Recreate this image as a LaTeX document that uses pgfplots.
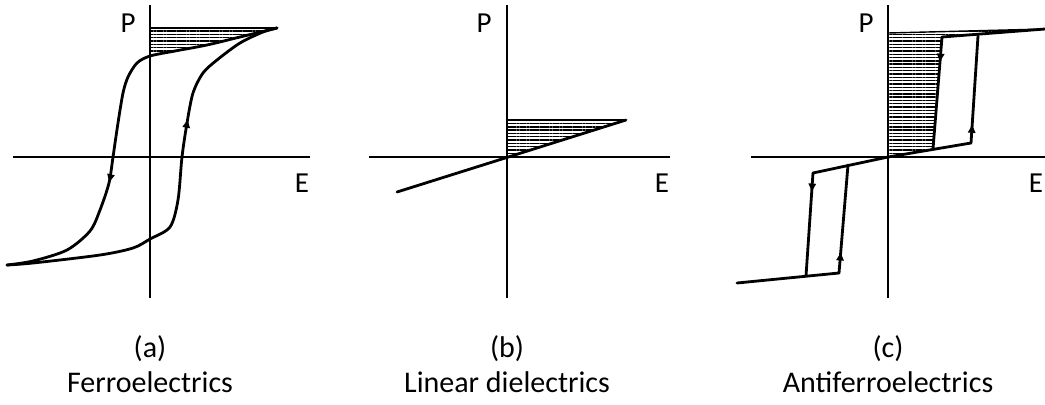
\documentclass[border=0pt]{standalone}
\usepackage{fontspec}
\setmainfont{Carlito}
\usepackage{pgfplots}
\pgfplotsset{compat=1.18}
\usetikzlibrary{patterns.meta,decorations.markings,arrows.meta}

\pgfplotsset{
  loopaxis/.style={
    x=0.5pt, y=0.5pt,
    axis lines=middle,
    axis line style={-, line width=1pt},
    xtick=\empty, ytick=\empty,
    clip=false,
    anchor=origin,
  },
  curve/.style={line width=1.4pt, black, line join=round, line cap=round, mark=none},
  hatch/.style={draw=none, mark=none, pattern={Lines[angle=0,distance=1.65pt,line width=0.7pt]}, pattern color=black},
  edge/.style={line width=0.7pt, black, mark=none},
  arrowat/.style={postaction={decorate}, decoration={markings,
      mark=at position #1 with {\arrow{Triangle[length=4pt,width=3.6pt]}}}},
}
\newcommand{\axlabel}{\fontsize{14.5}{17}\selectfont}
\newcommand{\caplabel}{\fontsize{15}{18}\selectfont}

\begin{document}
\begin{tikzpicture}
\useasboundingbox (0,0) rectangle (522.5pt,202pt);

% (a) ferroelectric hysteresis loop
\begin{axis}[loopaxis, at={(75pt,123.5pt)},
  xmin=-137, xmax=160, ymin=-141, ymax=152]
  \addplot[hatch] coordinates {(0,129) (127,129) (90,120) (57,112) (25,106) (0,101)} -- cycle;
  \addplot[edge] coordinates {(0,129) (127,129)};
  % field decreasing
  \addplot[curve, smooth, arrowat=0.65] coordinates {
    (127,129) (90,120) (57,112) (25,106) (0,101) (-13,94) (-22,80) (-27,64)
    (-32,34) (-37,0) (-41,-26) (-50,-53) (-60,-74) (-83,-93) (-117,-104) (-143,-108)};
  % field increasing
  \addplot[curve, smooth, arrowat=0.67] coordinates {
    (-143,-108) (-117,-106) (-50,-98) (-17,-91) (0,-82) (20,-70) (28,-43)
    (32,0) (37,34) (43,64) (53,84) (67,97) (90,114) (113,125) (127,129)};
  \node at (axis cs:-22,134) {\axlabel P};
  \node at (axis cs:152,-26) {\axlabel E};
  \node at (axis cs:0,-192) {\caplabel (a)};
  \node at (axis cs:0,-225) {\caplabel Ferroelectrics};
\end{axis}

% (b) linear dielectric
\begin{axis}[loopaxis, at={(253.5pt,123.5pt)},
  xmin=-138, xmax=163, ymin=-141, ymax=152]
  \addplot[hatch] coordinates {(0,0) (119,37) (0,37)} -- cycle;
  \addplot[edge] coordinates {(0,37) (119,37)};
  \addplot[curve] coordinates {(-110,-35) (119,37)};
  \node at (axis cs:-23,134) {\axlabel P};
  \node at (axis cs:155,-26) {\axlabel E};
  \node at (axis cs:0,-192) {\caplabel (b)};
  \node at (axis cs:0,-225) {\caplabel Linear dielectrics};
\end{axis}

% (c) antiferroelectric double loop
\begin{axis}[loopaxis, at={(444pt,123.5pt)},
  xmin=-137, xmax=160, ymin=-141, ymax=152]
  \addplot[hatch] coordinates {(0,0) (45,8) (54,120) (157,128) (0,124)} -- cycle;
  \addplot[edge] coordinates {(0,124) (157,128)};
  \addplot[curve] coordinates {(54,120) (157,128)};
  \addplot[curve, arrowat=0.22] coordinates {(54,120) (45,8)};
  \addplot[curve] coordinates {(-75,-16) (0,0) (83,14)};
  \addplot[curve, arrowat=0.17] coordinates {(83,14) (90,121)};
  \addplot[curve, arrowat=0.18] coordinates {(-75,-16) (-82,-119)};
  \addplot[curve] coordinates {(-151,-126) (-49,-116)};
  \addplot[curve, arrowat=0.19] coordinates {(-49,-116) (-40,-8)};
  \node at (axis cs:-22,134) {\axlabel P};
  \node at (axis cs:148,-26) {\axlabel E};
  \node at (axis cs:0,-192) {\caplabel (c)};
  \node at (axis cs:0,-225) {\caplabel Antiferroelectrics};
\end{axis}
\end{tikzpicture}
\end{document}
